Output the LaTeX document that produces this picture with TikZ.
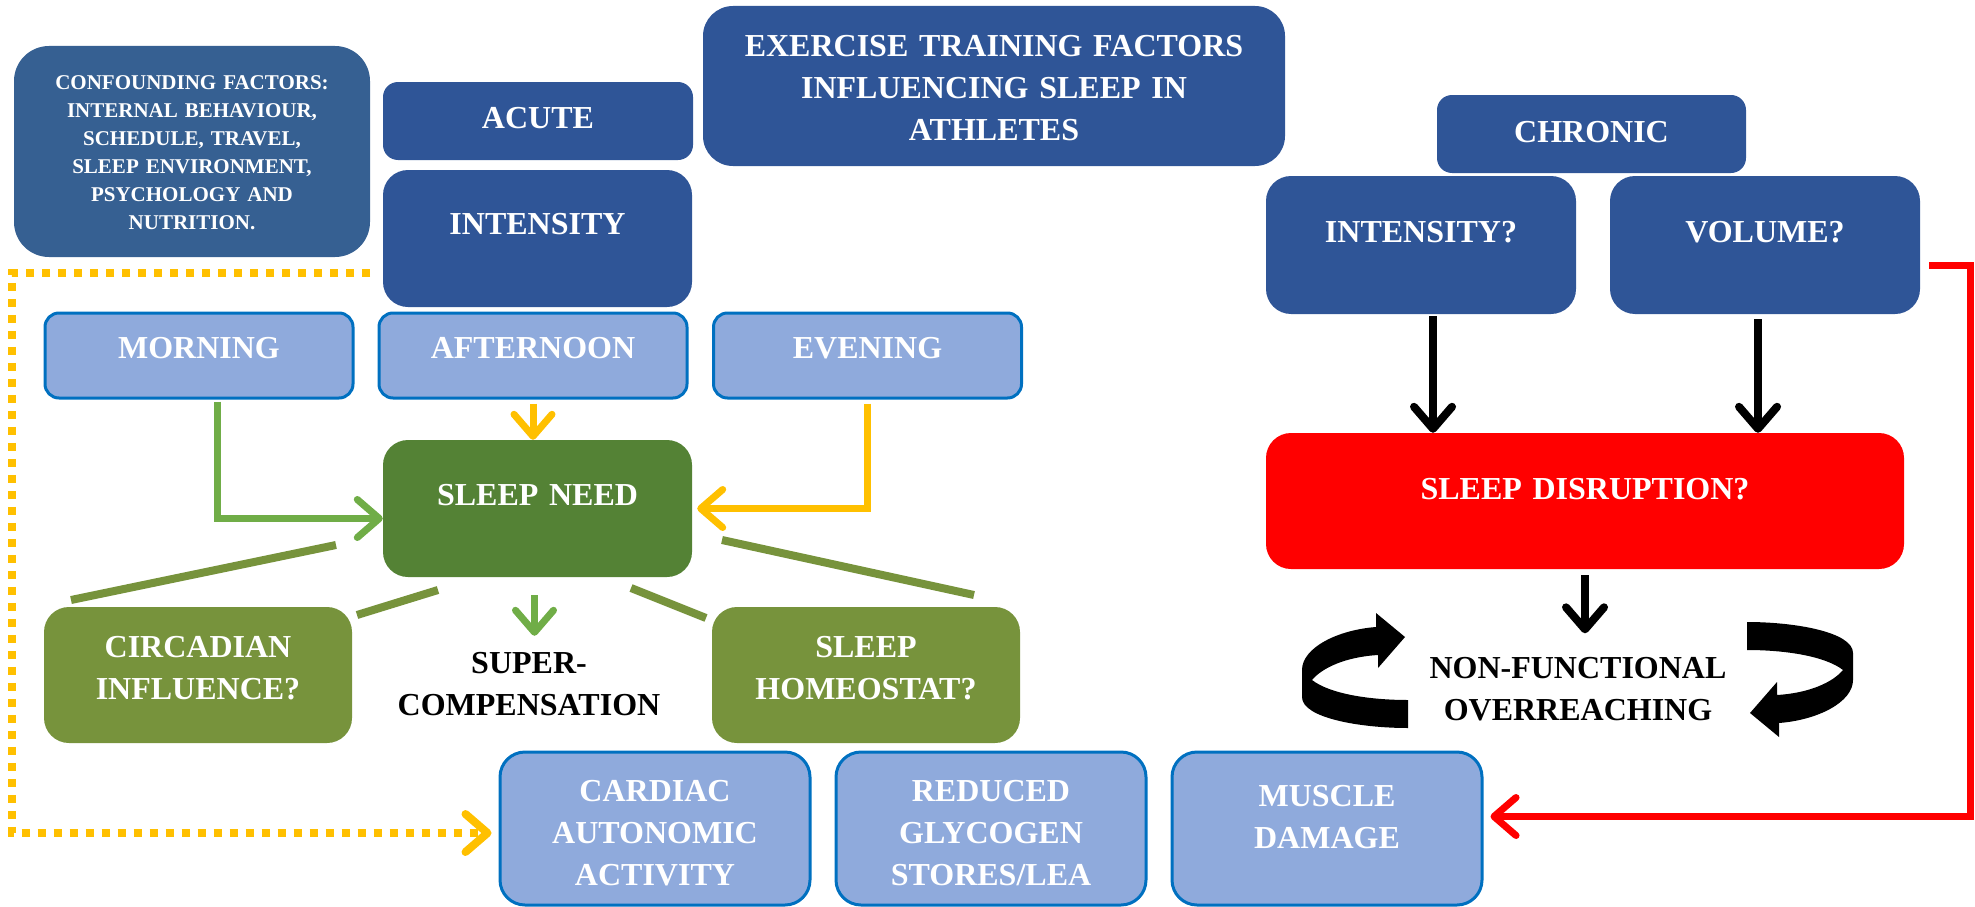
\documentclass[tikz,border=0pt]{standalone}
\usepackage{fontspec}
\setmainfont{Liberation Serif}
\usetikzlibrary{arrows.meta,positioning,calc}

\definecolor{darkblue}{HTML}{2F5597}
\definecolor{steelblue}{HTML}{366092}
\definecolor{lightblue}{HTML}{8FAADC}
\definecolor{edgeblue}{HTML}{0070C0}
\definecolor{needgreen}{HTML}{548235}
\definecolor{olive}{HTML}{77933C}
\definecolor{arrowgreen}{HTML}{70AD47}
\definecolor{amber}{HTML}{FFC000}
\definecolor{alarmred}{HTML}{FF0000}

\tikzset{
  box/.style={inner sep=0pt, align=center, text=white, font=\bfseries\fontsize{32}{42}\selectfont},
  tb/.style 2 args={text height=#1pt, text depth=#2pt},
  darkbox/.style={box, fill=darkblue, rounded corners=25pt},
  lightbox/.style={box, fill=lightblue, draw=edgeblue, line width=3pt, rounded corners=14pt},
  greenbox/.style={box, fill=olive, rounded corners=25pt},
  plaintext/.style={box, text=black},
  tip/.style={-{Straight Barb[length=22pt,width=38pt,round]}},
  greenarrow/.style={tip, draw=arrowgreen, line width=7pt},
  amberarrow/.style={tip, draw=amber, line width=7pt},
  blackarrow/.style={tip, draw=black, line width=8pt},
  redarrow/.style={tip, draw=alarmred, line width=7pt},
  amberdots/.style={tip, draw=amber, line width=8pt, dash pattern=on 8pt off 8pt},
  oliveline/.style={draw=olive, line width=8pt},
  curl/.pic={
    \fill[black] (53,58) .. controls (5,58) and (-53,48) .. (-53,27) -- (-53,0)
      .. controls (-53,-22) and (-18,-40) .. (21,-43) -- (21,-57) -- (50,-33)
      -- (23,-2) -- (23,-15) .. controls (-10,-13) and (-33,-2) .. (-43,10)
      .. controls (-25,24) and (15,30) .. (53,30) -- cycle;
  }
}

\begin{document}
\begin{tikzpicture}[x=1pt, y=-1pt]
    \useasboundingbox (0,0) rectangle (1975,907);

    % top row
    \node[darkbox, fill=steelblue, rounded corners=35pt, text width=356pt, tb={43}{168},
          font=\bfseries\fontsize{21}{28}\selectfont] (conf) at (192,151.5)
        {CONFOUNDING FACTORS:\\ INTERNAL BEHAVIOUR,\\ SCHEDULE, TRAVEL,\\ SLEEP ENVIRONMENT,\\ PSYCHOLOGY AND\\ NUTRITION.};
    \node[darkbox, rounded corners=30pt, text width=582pt, tb={51}{109}] (title) at (994,86)
        {EXERCISE TRAINING FACTORS\\ INFLUENCING SLEEP IN\\ ATHLETES};
    \node[darkbox, rounded corners=15pt, text width=310pt, tb={46}{32}] (acute) at (538,121) {ACUTE};
    \node[darkbox, text width=309pt, tb={64}{73}] (intA) at (537.5,238.5) {INTENSITY};
    \node[darkbox, rounded corners=15pt, text width=309pt, tb={47}{31}] (chronic) at (1591.5,134) {CHRONIC};
    \node[darkbox, text width=310pt, tb={66}{72}] (intC) at (1421,245) {INTENSITY?};
    \node[darkbox, text width=310pt, tb={66}{72}] (vol) at (1765,245) {VOLUME?};

    % time of day
    \node[lightbox, text width=308pt, tb={45}{40}] (morn) at (199,355.5) {MORNING};
    \node[lightbox, text width=308pt, tb={45}{40}] (aft) at (533,355.5) {AFTERNOON};
    \node[lightbox, text width=308pt, tb={45}{40}] (eve) at (867.5,355.5) {EVENING};

    % sleep need and its parts
    \node[darkbox, fill=needgreen, text width=309pt, tb={65}{72}] (need) at (537.5,508.5) {SLEEP NEED};
    \node[greenbox, text width=308pt, tb={50}{86}] (circ) at (198,675) {CIRCADIAN\\ INFLUENCE?};
    \node[greenbox, text width=308pt, tb={50}{86}] (homeo) at (866,675) {SLEEP\\ HOMEOSTAT?};
    \node[plaintext, text width=300pt, tb={22}{43}] (super) at (529,683.5) {SUPER-\\ COMPENSATION};

    % chronic side
    \node[darkbox, fill=alarmred, text width=638pt, tb={66}{70}] (disr) at (1585,501) {SLEEP DISRUPTION?};
    \node[plaintext, text width=330pt, tb={22}{44}] (nfo) at (1578,689.5) {NON-FUNCTIONAL\\ OVERREACHING};

    % outcomes
    \node[lightbox, rounded corners=25pt, text width=310pt, tb={49}{104}] (card) at (655,828.5) {CARDIAC\\ AUTONOMIC\\ ACTIVITY};
    \node[lightbox, rounded corners=25pt, text width=310pt, tb={49}{104}] (glyc) at (991,828.5) {REDUCED\\ GLYCOGEN\\ STORES/LEA};
    \node[lightbox, rounded corners=25pt, text width=310pt, tb={54}{99}] (musc) at (1327,828.5) {MUSCLE\\ DAMAGE};

    % connectors
    \draw[greenarrow] ([xshift=18pt,yshift=-2pt]morn.south) |- ([yshift=-10pt]need.west);
    \draw[amberarrow] ([yshift=-4pt]aft.south) -- (aft.south |- need.north);
    \draw[amberarrow, shorten >=5pt] ([yshift=-4pt]eve.south) |- (need.east);
    \draw[greenarrow] ([xshift=-3pt,yshift=-18pt]need.south) -- ([xshift=-3pt,yshift=15pt]need.south |- super.north);
    \foreach \xa/\ya/\xb/\yb in {336/545/71/600, 438/590/357/615, 631/588/706/618, 722/540/974/595} {
        \draw[oliveline] (\xa,\ya) -- (\xb,\yb);
    }

    \draw[blackarrow] ([xshift=12pt,yshift=-2pt]intC.south) -- ([xshift=12pt]intC.south |- disr.north);
    \draw[blackarrow] ([xshift=-7pt,yshift=-5pt]vol.south) -- ([xshift=-7pt]vol.south |- disr.north);
    \draw[blackarrow] ([yshift=-6pt]disr.south) -- ([yshift=23pt]disr.south |- nfo.north);
    \pic at (1355,670) {curl};
    \pic[rotate=180] at (1800,680) {curl};

    \draw[redarrow] ([xshift=9pt,yshift=-20pt]vol.east) -- ++(41,0) |- ([xshift=7pt,yshift=12pt]musc.east);
    \draw[amberdots] ([yshift=-16pt]conf.south east) -- ([xshift=-2pt,yshift=-16pt]conf.south west)
        |- ([xshift=-7pt,yshift=-4.5pt]card.west);
\end{tikzpicture}
\end{document}
